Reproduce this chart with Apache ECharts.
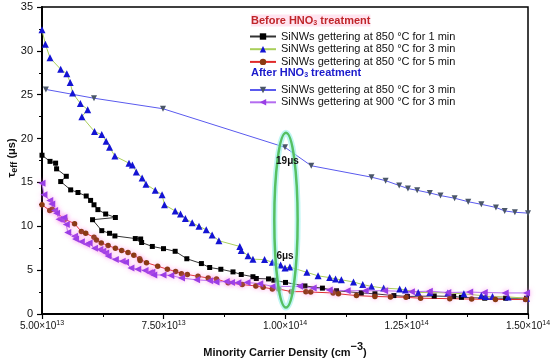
<!DOCTYPE html>
<html><head><meta charset="utf-8">
<script src="https://cdn.jsdelivr.net/npm/echarts@6/dist/echarts.min.js"></script>
<style>html,body{margin:0;padding:0;background:#fff}#c{width:550px;height:358px}</style>
</head><body><div id="c"></div>
<script>
// x values in units of 1e13 cm^-3, y values in microseconds
const s1Name = 'SiNWs gettering at 850 °C for 1 min';
const s1 = [[5.0,18.1],[5.165,17.4],[5.28,17.2],[5.30,16.55],[5.50,15.7],[5.385,15.1],[5.59,14.15],[5.74,13.85],[5.91,13.45],[6.00,12.95],[6.07,12.45],[6.15,11.9],[6.31,11.4],[6.51,11.0],[6.04,10.75],[6.23,9.5],[6.39,9.2],[6.50,8.9],[6.92,8.6],[7.03,8.55],[7.05,8.15],[7.27,7.7],[7.50,7.45],[7.74,7.15],[7.98,6.3],[8.28,5.75],[8.45,5.3],[8.68,5.1],[8.93,4.8],[9.10,4.5],[9.34,4.25],[9.41,4.05],[9.66,4.0],[9.77,3.85],[10.01,3.6],[10.41,3.2],[10.77,2.95],[11.06,2.65],[11.57,2.4],[11.85,2.3],[12.24,2.1],[12.52,2.0],[13.07,2.05],[13.47,2.0],[13.63,1.9],[14.11,1.8],[14.54,1.8],[14.97,1.8]];
const s2Name = 'SiNWs gettering at 850 °C for 3 min';
const s2 = [[5.0,32.4],[5.07,30.75],[5.165,29.2],[5.385,27.9],[5.51,27.4],[5.58,26.4],[5.63,25.2],[5.79,24.0],[5.94,23.3],[5.82,22.5],[6.08,20.8],[6.23,20.45],[6.32,19.7],[6.39,19.0],[6.50,18.0],[6.79,17.2],[6.86,17.0],[6.94,16.2],[7.06,15.5],[7.14,14.8],[7.33,14.1],[7.47,13.6],[7.52,12.45],[7.74,11.75],[7.85,11.4],[7.95,10.9],[8.09,10.4],[8.23,10.0],[8.38,9.6],[8.50,9.0],[8.64,8.35],[9.07,7.7],[9.10,7.25],[9.24,6.65],[9.34,6.25],[9.58,6.2],[9.74,5.9],[9.91,5.6],[10.0,5.25],[10.10,5.35],[10.45,4.75],[10.68,4.35],[10.92,4.15],[11.04,4.0],[11.16,3.9],[11.41,3.65],[11.60,3.35],[11.78,3.15],[12.03,2.95],[12.36,2.85],[12.48,2.75],[12.74,2.45],[12.98,2.45],[13.35,2.4],[13.68,2.3],[14.04,2.1],[14.13,2.0],[14.27,2.0],[14.59,1.95],[14.97,1.8]];
const s3Name = 'SiNWs gettering at 850 °C for 5 min';
const s3 = [[5.0,12.45],[5.16,11.8],[5.21,11.95],[5.47,10.8],[5.67,10.3],[5.81,9.4],[5.90,9.2],[6.07,8.75],[6.12,8.45],[6.22,8.1],[6.36,7.8],[6.51,7.5],[6.64,7.25],[6.77,7.0],[6.89,6.7],[7.01,6.3],[7.02,6.1],[7.15,5.85],[7.38,5.45],[7.58,5.1],[7.75,4.85],[7.87,4.6],[7.99,4.5],[8.21,4.3],[8.42,4.1],[8.59,4.0],[8.83,3.55],[9.12,3.35],[9.40,3.2],[9.55,3.05],[9.74,2.85],[9.87,2.85],[10.13,2.55],[10.43,2.55],[10.53,2.5],[10.99,2.4],[11.10,2.3],[11.47,2.1],[11.85,2.0],[12.17,1.95],[12.49,1.9],[12.79,1.8],[13.39,1.75],[13.84,1.7],[14.33,1.65],[14.95,1.65]];
const s4Name = 'SiNWs gettering at 850 °C for 3 min ';
const s4 = [[5.08,25.6],[6.07,24.6],[7.49,23.4],[10.0,19.0],[10.54,16.9],[11.78,15.6],[12.07,15.2],[12.35,14.65],[12.53,14.3],[12.72,14.1],[12.98,13.8],[13.20,13.5],[13.49,13.2],[13.77,12.8],[14.04,12.5],[14.34,12.15],[14.52,11.75],[14.73,11.6],[15.0,11.5]];
const s5Name = 'SiNWs gettering at 900 °C for 3 min';
const s5 = [[5.0,14.9],[5.04,13.6],[5.16,12.95],[5.20,12.55],[5.26,11.8],[5.30,11.5],[5.35,10.8],[5.40,10.75],[5.45,11.0],[5.50,10.2],[5.53,9.3],[5.67,8.85],[5.69,8.55],[5.81,8.25],[5.92,7.95],[5.97,8.1],[6.08,7.5],[6.19,7.35],[6.25,7.15],[6.31,6.95],[6.36,6.6],[6.51,6.2],[6.65,6.0],[6.72,5.9],[6.83,5.25],[6.97,5.1],[7.12,4.95],[7.21,4.7],[7.26,4.75],[7.30,4.45],[7.49,4.45],[7.65,4.4],[7.87,4.1],[8.18,3.9],[8.45,3.8],[8.58,3.65],[8.79,3.7],[8.90,3.6],[9.03,3.55],[9.22,3.6],[9.48,3.45],[9.75,3.15],[10.3,3.15],[10.58,2.95],[10.91,2.75],[11.28,2.65],[11.65,2.65],[12.05,2.65],[12.6,2.55],[12.97,2.6],[13.35,2.45],[13.8,2.5],[14.1,2.45],[14.53,2.4],[14.97,2.4]];
const xTickMantissa = {5:'5.00', 7.5:'7.50', 10:'1.00', 12.5:'1.25', 15:'1.50'};
const xTickExponent = {5:'13', 7.5:'13', 10:'14', 12.5:'14', 15:'14'};
const annotations = [{x:10.05, y:17.4, text:'19μs'}, {x:10.0, y:6.6, text:'6μs'}];
const ellipseSpec = {cx:10.02, cy:10.7, rx:0.24, ry:9.97};

const chart = echarts.init(document.getElementById('c'));
const FF = '"Liberation Sans", Arial, sans-serif';
function lineSeries(name, data, sym, size, mColor, lColor, rot, shadow) {
  return {
    name, type:'line', data, symbol:sym, symbolSize:size, symbolRotate:rot||0,
    itemStyle:{color:mColor, shadowBlur: shadow?5:0, shadowColor: shadow||'transparent'},
    lineStyle:{color:lColor, width:1},
    animation:false
  };
}
chart.setOption({
  animation:false,
  grid:{left:42, right:22, top:7, bottom:44, show:true, borderColor:'#000', borderWidth:1.5, containLabel:false, outerBoundsMode:'none'},
  legend:[
    {data:[s1Name,s2Name,s3Name], left:249, top:30.5, orient:'vertical', itemWidth:26, itemHeight:8, itemGap:0.7,
     padding:0, textStyle:{fontFamily:FF, fontSize:11, color:'#111', lineHeight:12}, selectedMode:false},
    {data:[s4Name,s5Name], left:249, top:84, orient:'vertical', itemWidth:26, itemHeight:8, itemGap:0.3,
     padding:0, textStyle:{fontFamily:FF, fontSize:11, color:'#111', lineHeight:12}, selectedMode:false}
  ],
  xAxis:{
    type:'value', min:5, max:15, interval:2.5,
    axisLine:{onZero:false, lineStyle:{color:'#000', width:2}},
    axisTick:{inside:false, length:5, lineStyle:{color:'#000', width:1.2}},
    minorTick:{show:true, splitNumber:2, length:3, lineStyle:{color:'#000', width:1}},
    splitLine:{show:false},
    axisLabel:{margin:6, formatter:v => '{m|' + xTickMantissa[v] + '×10}{e|' + xTickExponent[v] + '}',
      rich:{m:{fontFamily:FF, fontSize:10, color:'#111'}, e:{fontFamily:FF, fontSize:7, color:'#111', padding:[0,0,6,0]}}},
    name:'Minority Carrier Density (cm{sup|−3})', nameLocation:'middle', nameGap:27,
    nameTextStyle:{fontFamily:FF, fontSize:11, fontWeight:'bold', color:'#111',
      rich:{sup:{fontFamily:FF, fontSize:11, fontWeight:'bold', color:'#111', padding:[0,0,12,0]}}}
  },
  yAxis:{
    type:'value', min:0, max:35, interval:5,
    axisLine:{onZero:false, lineStyle:{color:'#000', width:2}},
    axisTick:{inside:false, length:5, lineStyle:{color:'#000', width:1.2}},
    minorTick:{show:true, splitNumber:2, length:3, lineStyle:{color:'#000', width:1}},
    splitLine:{show:false},
    axisLabel:{margin:9, fontFamily:FF, fontSize:11, color:'#111'}
  },
  series:[
    lineSeries(s1Name, s1, 'rect', 5, '#000', '#333'),
    lineSeries(s2Name, s2, 'triangle', 7, '#1414d4', '#a9cf5a'),
    lineSeries(s3Name, s3, 'circle', 5.5, '#8a3a12', '#e02a2a', 0, 'rgba(255,120,220,0.6)'),
    lineSeries(s4Name, s4, 'triangle', 6, '#4a5668', '#5a5aee', 180),
    lineSeries(s5Name, s5, 'triangle', 7, '#9a3ee6', '#b46cf0', 90, 'rgba(255,120,230,0.7)')
  ]
});

function px(x, y) { return chart.convertToPixel({gridIndex:0}, [x, y]); }
const c = px(ellipseSpec.cx, ellipseSpec.cy);
const e1 = px(ellipseSpec.cx + ellipseSpec.rx, ellipseSpec.cy + ellipseSpec.ry);
const rx = e1[0] - c[0], ry = c[1] - e1[1];
const graphics = [
  {type:'ellipse', shape:{cx:c[0], cy:c[1], rx:rx, ry:ry}, style:{fill:'none', stroke:'rgba(150,240,235,0.6)', lineWidth:6}, z:50},
  {type:'ellipse', shape:{cx:c[0], cy:c[1], rx:rx, ry:ry}, style:{fill:'none', stroke:'#55c062', lineWidth:2.5}, z:51},
  {type:'text', left:251, top:14.5, z:60, style:{text:'Before HNO{s|3} treatment', fill:'#c0262a', backgroundColor:'#ffe4f0',
     font:'bold 11px ' + FF, rich:{s:{fill:'#c0262a', fontSize:7, fontWeight:'bold', fontFamily:FF, padding:[5,0,0,0]}}}},
  {type:'text', left:251, top:67.5, z:60, style:{text:'After HNO{s|3} treatment', fill:'#1a1acc',
     font:'bold 11px ' + FF, rich:{s:{fill:'#1a1acc', fontSize:7, fontWeight:'bold', fontFamily:FF, padding:[5,0,0,0]}}}},
  {type:'text', x:12, y:158, rotation:Math.PI/2, z:60, style:{text:'{t|τ}{s|eff}{t| (μs)}', align:'center', verticalAlign:'middle',
     rich:{t:{fontFamily:FF, fontSize:11, fontWeight:'bold', fill:'#111'},
           s:{fontFamily:FF, fontSize:9, fontWeight:'bold', fill:'#111', padding:[5,0,0,0]}}}}
];
annotations.forEach(a => {
  const p = px(a.x, a.y);
  graphics.push({type:'text', x:p[0], y:p[1], z:60, style:{text:a.text, fill:'#111', font:'bold 10px ' + FF, align:'center', verticalAlign:'middle'}});
});
chart.setOption({graphic:graphics});
</script></body></html>
